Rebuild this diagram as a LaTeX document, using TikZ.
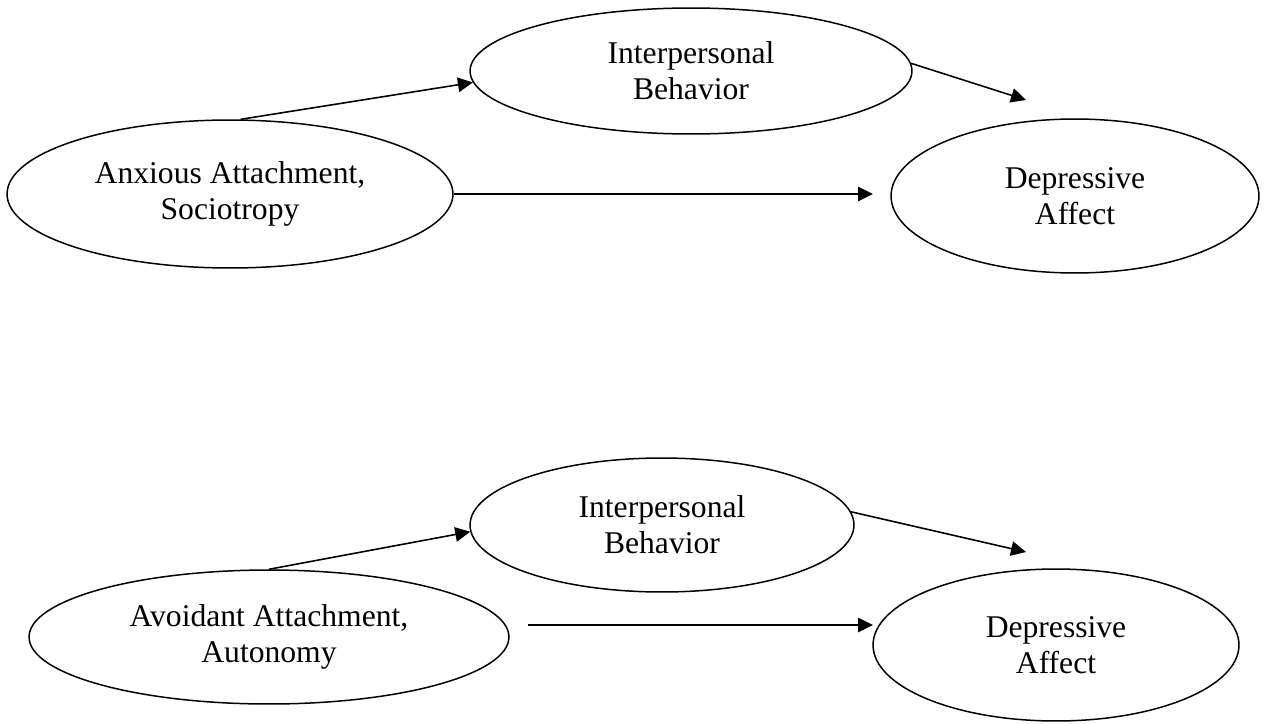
\documentclass[tikz,border=0pt]{standalone}
\usepackage{fontspec}
\setmainfont{Liberation Serif}
\usetikzlibrary{shapes.geometric,arrows.meta}
\begin{document}
\begin{tikzpicture}[x=0.02cm,y=-0.02cm,
  oval/.style={draw,line width=0.85pt,ellipse,inner sep=0pt,align=center,font=\fontsize{18}{20.5}\selectfont},
  conn/.style={line width=0.9pt,-{Triangle[length=0.3cm,width=0.29cm]}}]
\useasboundingbox (0,0) rectangle (1270,723);
% top diagram
\node[oval,minimum width=8.92cm,minimum height=2.96cm] (A1) at (230,194) {Anxious Attachment,\\Sociotropy};
\node[oval,minimum width=8.84cm,minimum height=2.52cm] (IB1) at (691,71) {Interpersonal\\Behavior};
\node[oval,minimum width=7.36cm,minimum height=3.08cm] (D1) at (1075,196) {Depressive\\Affect};
\coordinate (t1) at (1026,100);
\coordinate (h1) at (873,194);
\draw[conn] (A1.82) -- (IB1.183);
\draw[conn] (IB1.2) -- (t1);
\draw[conn] (A1.east) -- (h1);
% bottom diagram
\node[oval,minimum width=9.6cm,minimum height=2.68cm] (A2) at (269,637) {Avoidant Attachment,\\Autonomy};
\node[oval,minimum width=7.68cm,minimum height=2.68cm] (IB2) at (662,525) {Interpersonal\\Behavior};
\node[oval,minimum width=7.32cm,minimum height=3.04cm] (D2) at (1056,645) {Depressive\\Affect};
\coordinate (t2) at (1026,552);
\coordinate (s2) at (528,625);
\coordinate (h2) at (873,625);
\draw[conn] (A2.north) -- (IB2.182);
\draw[conn] (IB2.4) -- (t2);
\draw[conn] (s2) -- (h2);
\end{tikzpicture}
\end{document}
